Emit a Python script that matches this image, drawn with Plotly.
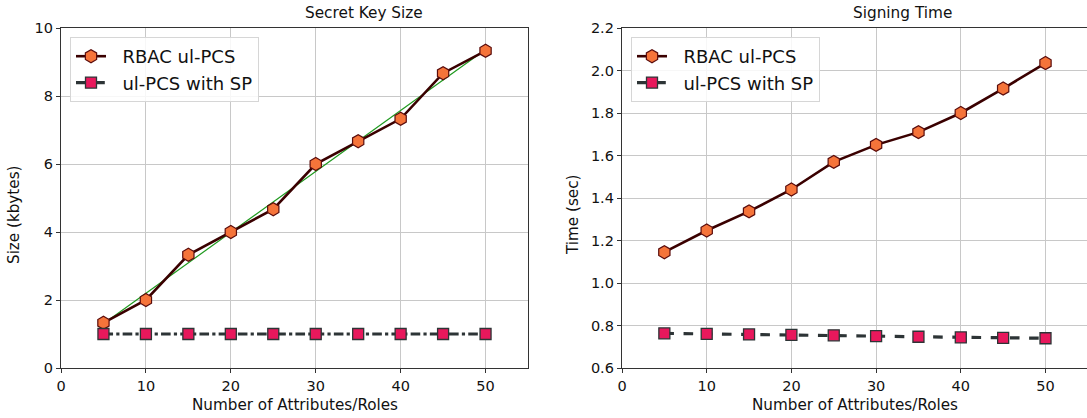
import plotly.graph_objects as go

x_vals = [5, 10, 15, 20, 25, 30, 35, 40, 45, 50]
key_rbac = [1.33, 2.0, 3.33, 4.0, 4.67, 6.0, 6.67, 7.33, 8.67, 9.33]
key_sp = [1.0, 1.0, 1.0, 1.0, 1.0, 1.0, 1.0, 1.0, 1.0, 1.0]
trend_x = [5, 50]
trend_y = [1.30, 9.37]
time_rbac = [1.145, 1.247, 1.337, 1.44, 1.57, 1.65, 1.71, 1.80, 1.915, 2.035]
time_sp = [0.763, 0.761, 0.758, 0.756, 0.754, 0.750, 0.747, 0.744, 0.742, 0.740]

FONT = "DejaVu Sans"
LINE_RBAC = "#3a0000"
HEX_FILL = "#f5743a"
HEX_EDGE = "#5a0c0c"
SP_LINE = "#2d3436"
SQ_FILL = "#e8185c"
NB = "\u00a0\u00a0"

fig = go.Figure()

def rbac(x, y, xa, ya, lg):
    return go.Scatter(x=x, y=y, xaxis=xa, yaxis=ya, mode="lines+markers",
                      name=NB + "RBAC ul-PCS", showlegend=True, legend=lg,
                      line=dict(color=LINE_RBAC, width=2.6),
                      marker=dict(symbol="hexagon", size=13, color=HEX_FILL,
                                  line=dict(color=HEX_EDGE, width=1.2)))

def sp(x, y, xa, ya, lg, dash):
    return go.Scatter(x=x, y=y, xaxis=xa, yaxis=ya, mode="lines+markers",
                      name=NB + "ul-PCS with SP", showlegend=True, legend=lg,
                      line=dict(color=SP_LINE, width=3.2, dash=dash),
                      marker=dict(symbol="square", size=11, color=SQ_FILL,
                                  line=dict(color=SP_LINE, width=1.3)))

fig.add_trace(go.Scatter(x=trend_x, y=trend_y, xaxis="x", yaxis="y", mode="lines",
                         line=dict(color="#1f9a1f", width=1.2), showlegend=False,
                         hoverinfo="skip"))
fig.add_trace(rbac(x_vals, key_rbac, "x", "y", "legend"))
fig.add_trace(sp(x_vals, key_sp, "x", "y", "legend", "dashdot"))
fig.add_trace(rbac(x_vals, time_rbac, "x2", "y2", "legend2"))
fig.add_trace(sp(x_vals, time_sp, "x2", "y2", "legend2", "dash"))

ax_common = dict(showgrid=True, gridcolor="#c8c8c8", gridwidth=1,
                 showline=True, linecolor="#333333", linewidth=1.3,
                 ticks="outside", ticklen=4, tickcolor="#333333",
                 tickfont=dict(family=FONT, size=14.5, color="#111111"),
                 zeroline=False, automargin=False)

leg_common = dict(bgcolor="rgba(255,255,255,0.85)", bordercolor="#d6d6d6", borderwidth=1,
                  font=dict(family=FONT, size=18, color="#111111"),
                  xanchor="left", yanchor="top",
                  traceorder="normal", itemwidth=30)

fig.update_layout(
    width=1087, height=418,
    margin=dict(l=0, r=0, t=0, b=0, autoexpand=False),
    paper_bgcolor="white", plot_bgcolor="white",
    font=dict(family=FONT, color="#111111"),
    showlegend=True,
    legend=dict(x=70/1087, y=1-37/418, **leg_common),
    legend2=dict(x=631/1087, y=1-37/418, **leg_common),
    xaxis=dict(domain=[61/1087, 528/1087], range=[0, 55], dtick=10, mirror=True,
               anchor="y", **ax_common),
    yaxis=dict(domain=[1-368/418, 1-28/418], range=[0, 10], dtick=2, mirror=True,
               anchor="x", **ax_common),
    xaxis2=dict(domain=[622/1087, 1.0], range=[0, 54.9], dtick=10, mirror=True,
                anchor="y2", **ax_common),
    yaxis2=dict(domain=[1-368/418, 1-28/418], range=[0.6, 2.2], dtick=0.2, mirror=False,
                tickformat=".1f", anchor="x2", **ax_common),
)

def ann(text, xpx, ypx, size, angle=0, xanchor="center"):
    fig.add_annotation(text=text, x=xpx/1087, y=1-ypx/418, xref="paper", yref="paper",
                       showarrow=False, textangle=angle, xanchor=xanchor, yanchor="middle",
                       font=dict(family=FONT, size=size, color="#111111"))

ann("Secret Key Size", 303, 13, 15.3, xanchor="left")
ann("Signing Time", 851, 13, 15.3, xanchor="left")
ann("Number of Attributes/Roles", (61+528)/2, 405, 15.2)
ann("Number of Attributes/Roles", 855, 405, 15.2)
ann("Size (kbytes)", 14, 215, 15.2, -90)
ann("Time (sec)", 573, 215, 15.2, -90)

fig.write_html("out.html", config={"displayModeBar": False},
               post_script="document.body.style.margin='0';document.body.style.overflow='hidden';")
